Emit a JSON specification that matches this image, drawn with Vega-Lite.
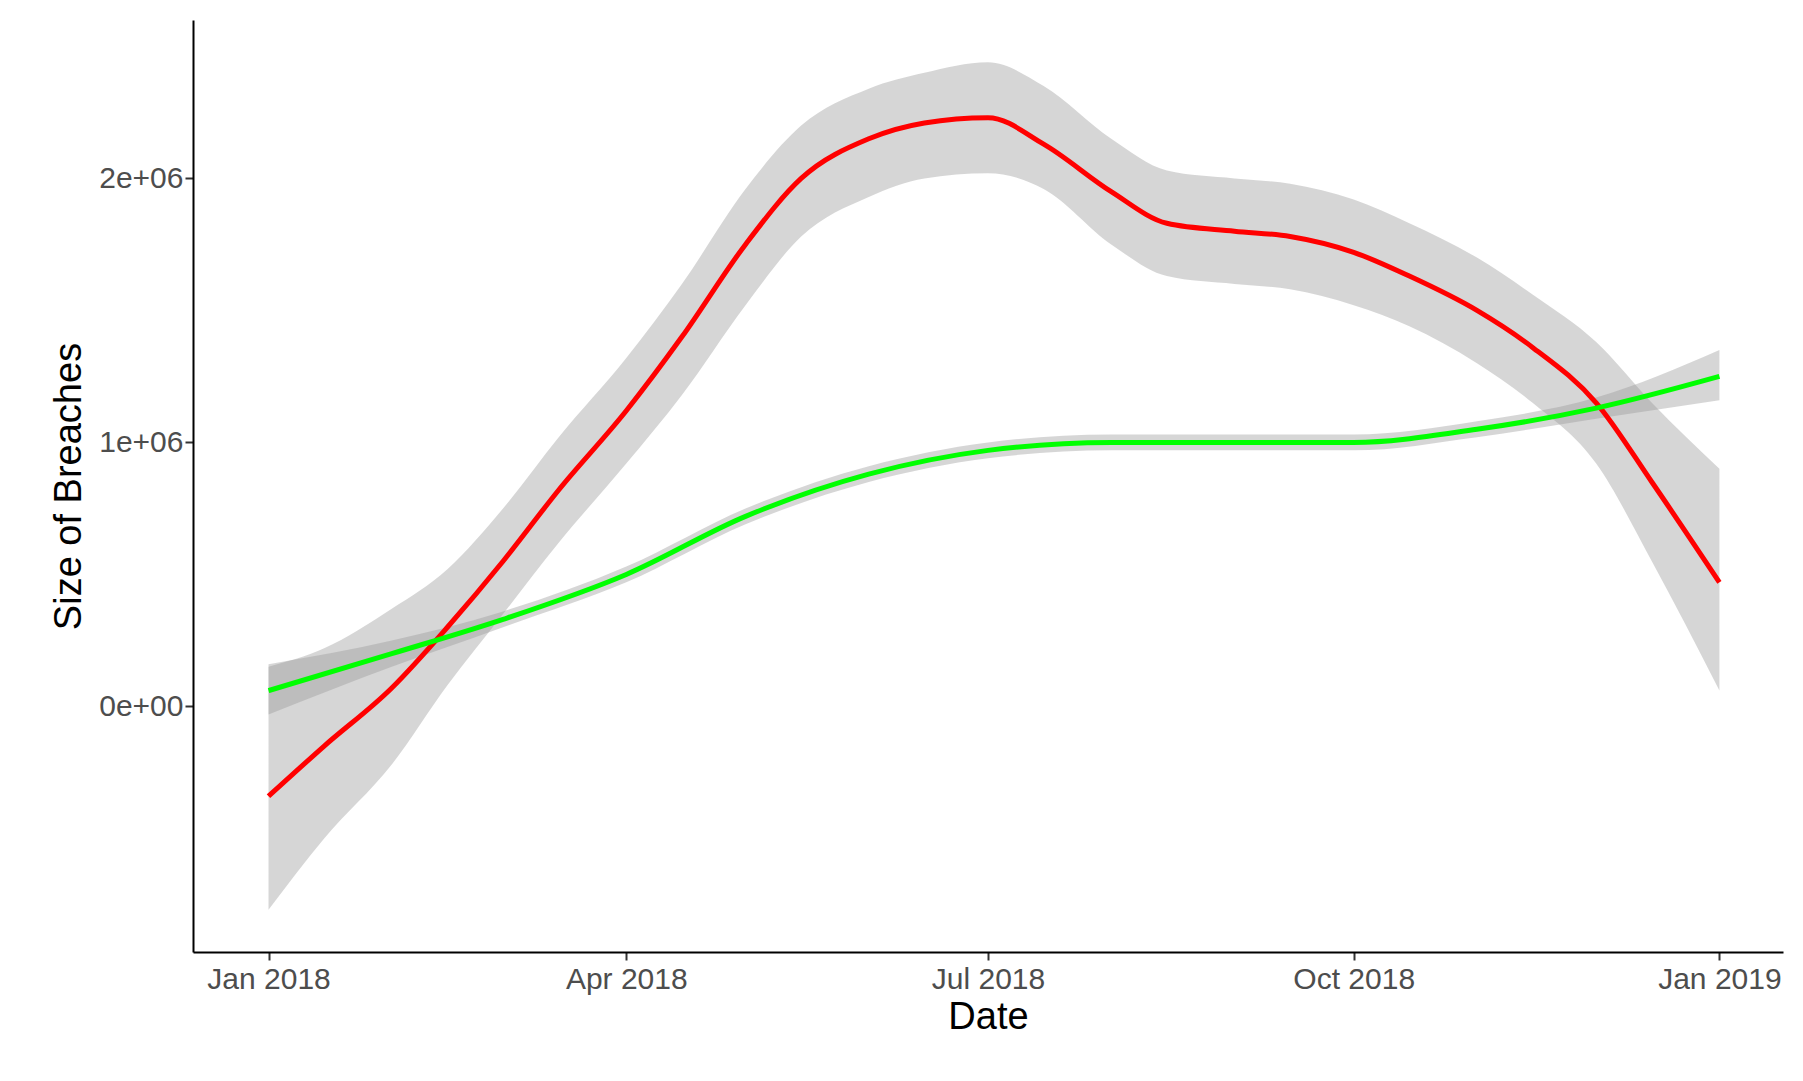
{
"$schema":"https://vega.github.io/schema/vega-lite/v6.json",
"width":1803,"height":1081,
"autosize":{"type":"fit","contains":"padding"},
"padding":{"left":50,"top":20,"right":20,"bottom":45},
"background":"white",
"config":{"view":{"stroke":null},"axis":{"grid":false,"domainColor":"black","domainWidth":2,"tickColor":"#333","tickWidth":2,"tickSize":8,"labelColor":"#4d4d4d","labelFontSize":30,"labelFont":"Liberation Sans","titleFont":"Liberation Sans","titleFontSize":38,"titleFontWeight":"normal","titleColor":"black"}},
"data":{"values":[
{"d":"2018-01-01","s":"a","y":-0.34,"lo":-0.77,"hi":0.15},
{"d":"2018-01-15","s":"a","y":-0.15,"lo":-0.5,"hi":0.22},
{"d":"2018-02-01","s":"a","y":0.07,"lo":-0.22,"hi":0.37},
{"d":"2018-02-15","s":"a","y":0.3,"lo":0.08,"hi":0.52},
{"d":"2018-03-01","s":"a","y":0.55,"lo":0.35,"hi":0.75},
{"d":"2018-03-15","s":"a","y":0.82,"lo":0.62,"hi":1.02},
{"d":"2018-04-01","s":"a","y":1.12,"lo":0.92,"hi":1.32},
{"d":"2018-04-15","s":"a","y":1.4,"lo":1.18,"hi":1.6},
{"d":"2018-05-01","s":"a","y":1.75,"lo":1.52,"hi":1.96},
{"d":"2018-05-15","s":"a","y":2.0,"lo":1.78,"hi":2.2},
{"d":"2018-06-01","s":"a","y":2.15,"lo":1.93,"hi":2.34},
{"d":"2018-06-15","s":"a","y":2.21,"lo":2.0,"hi":2.4},
{"d":"2018-07-01","s":"a","y":2.23,"lo":2.02,"hi":2.44},
{"d":"2018-07-15","s":"a","y":2.13,"lo":1.96,"hi":2.35},
{"d":"2018-08-01","s":"a","y":1.95,"lo":1.75,"hi":2.15},
{"d":"2018-08-15","s":"a","y":1.83,"lo":1.63,"hi":2.03},
{"d":"2018-09-01","s":"a","y":1.8,"lo":1.6,"hi":2.0},
{"d":"2018-09-15","s":"a","y":1.78,"lo":1.58,"hi":1.98},
{"d":"2018-10-01","s":"a","y":1.72,"lo":1.52,"hi":1.92},
{"d":"2018-10-15","s":"a","y":1.63,"lo":1.44,"hi":1.83},
{"d":"2018-11-01","s":"a","y":1.5,"lo":1.3,"hi":1.7},
{"d":"2018-11-15","s":"a","y":1.36,"lo":1.15,"hi":1.56},
{"d":"2018-12-01","s":"a","y":1.15,"lo":0.92,"hi":1.38},
{"d":"2018-12-15","s":"a","y":0.85,"lo":0.55,"hi":1.15},
{"d":"2019-01-01","s":"a","y":0.47,"lo":0.06,"hi":0.9},
{"d":"2018-01-01","s":"b","y":0.06,"lo":-0.03,"hi":0.16},
{"d":"2018-02-01","s":"b","y":0.2,"lo":0.15,"hi":0.25},
{"d":"2018-03-01","s":"b","y":0.33,"lo":0.3,"hi":0.36},
{"d":"2018-04-01","s":"b","y":0.5,"lo":0.47,"hi":0.53},
{"d":"2018-05-01","s":"b","y":0.72,"lo":0.69,"hi":0.75},
{"d":"2018-06-01","s":"b","y":0.88,"lo":0.85,"hi":0.91},
{"d":"2018-07-01","s":"b","y":0.97,"lo":0.94,"hi":1.0},
{"d":"2018-08-01","s":"b","y":1.0,"lo":0.97,"hi":1.03},
{"d":"2018-09-01","s":"b","y":1.0,"lo":0.97,"hi":1.03},
{"d":"2018-10-01","s":"b","y":1.0,"lo":0.97,"hi":1.03},
{"d":"2018-11-01","s":"b","y":1.05,"lo":1.02,"hi":1.08},
{"d":"2018-12-01","s":"b","y":1.13,"lo":1.09,"hi":1.17},
{"d":"2019-01-01","s":"b","y":1.25,"lo":1.16,"hi":1.35}
]},
"encoding":{
"x":{"field":"d","type":"temporal","title":"Date","scale":{"domain":["2017-12-13","2019-01-17"],"nice":false},
"axis":{"values":["2018-01-01","2018-04-01","2018-07-01","2018-10-01","2019-01-01"],"format":"%b %Y","labelPadding":4}}
},
"layer":[
{"mark":{"type":"area","color":"#999999","opacity":0.4,"interpolate":"monotone"},
 "encoding":{"y":{"field":"lo","type":"quantitative"},"y2":{"field":"hi"},"detail":{"field":"s"}}},
{"mark":{"type":"line","strokeWidth":5,"interpolate":"monotone"},
 "encoding":{"y":{"field":"y","type":"quantitative","title":"Size of Breaches","scale":{"domain":[-0.93,2.6],"nice":false,"zero":false},
   "axis":{"values":[0,1,2],"labelExpr":"datum.value==0?'0e+00':datum.value==1?'1e+06':'2e+06'","titlePadding":10}},
  "color":{"field":"s","type":"nominal","scale":{"domain":["a","b"],"range":["#FF0000","#00FF00"]},"legend":null}}}
]
}
